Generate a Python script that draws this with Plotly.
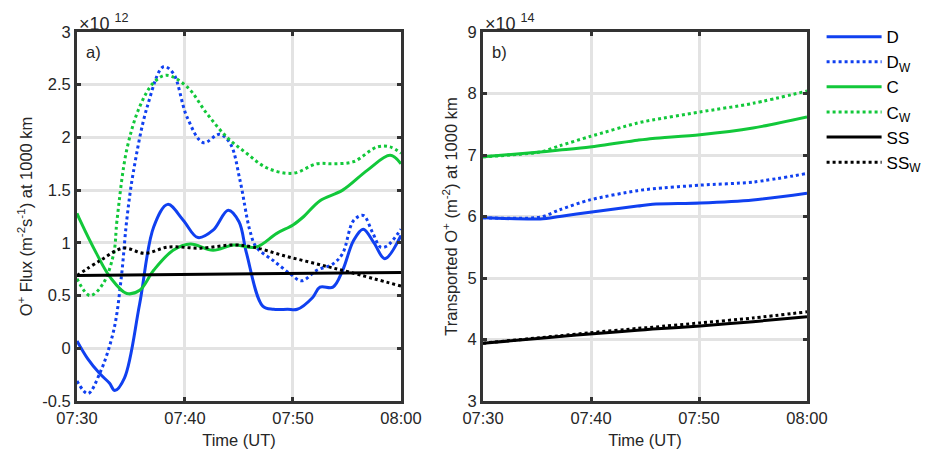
import plotly.graph_objects as go
from plotly.subplots import make_subplots

# ---- Data ----
# panel a: O+ flux (x 1e12 m^-2 s^-1), time in minutes after 07:30
t_D = [0, 1.0, 2.1, 3.0, 3.5, 4.4, 5.8, 7.1, 8.4, 9.8, 11.2, 12.6, 14.0, 15.0, 15.7, 17.2, 18.2, 19.5, 20.4, 21.8, 22.5, 23.7, 24.6, 25.6, 26.5, 27.5, 28.5, 30.0]
v_D = [0.07, -0.10, -0.24, -0.33, -0.40, -0.28, 0.42, 1.15, 1.365, 1.22, 1.05, 1.12, 1.31, 1.20, 0.90, 0.40, 0.37, 0.37, 0.37, 0.48, 0.58, 0.58, 0.74, 1.02, 1.13, 1.00, 0.85, 1.07]

t_Dw = [0, 1.0, 2.1, 3.4, 4.1, 4.6, 5.2, 6.5, 8.0, 8.9, 10.2, 11.7, 13.2, 14.2, 15.1, 16.0, 16.6, 18.2, 19.7, 20.8, 22.2, 23.7, 24.6, 25.6, 26.5, 27.4, 28.1, 28.7, 30.0]
v_Dw = [-0.31, -0.43, -0.24, 0.17, 0.67, 1.21, 1.66, 2.29, 2.67, 2.61, 2.19, 1.95, 2.03, 1.94, 1.59, 1.12, 0.96, 0.83, 0.71, 0.64, 0.74, 0.80, 0.90, 1.21, 1.26, 1.09, 0.96, 0.97, 1.13]

t_C = [0, 0.3, 1.8, 3.1, 4.6, 5.8, 7.1, 8.9, 10.5, 12.6, 14.5, 16.6, 18.5, 20.0, 21.0, 22.5, 24.6, 26.9, 29.0, 30.0]
v_C = [1.28, 1.21, 0.90, 0.67, 0.52, 0.55, 0.74, 0.93, 0.99, 0.93, 0.98, 0.96, 1.09, 1.17, 1.25, 1.40, 1.50, 1.69, 1.83, 1.75]

t_Cw = [0, 1.2, 2.4, 3.4, 3.7, 4.6, 5.8, 7.1, 8.3, 10.2, 12.0, 13.9, 15.7, 17.6, 20.0, 22.2, 23.7, 25.6, 27.8, 29.0, 30.0]
v_Cw = [0.66, 0.50, 0.61, 0.90, 1.21, 1.88, 2.29, 2.52, 2.59, 2.48, 2.23, 2.00, 1.85, 1.71, 1.66, 1.75, 1.75, 1.77, 1.91, 1.91, 1.85]

t_SS = [0, 30.0]
v_SS = [0.69, 0.72]

t_SSw = [0, 2.1, 4.3, 6.3, 8.4, 11.4, 14.5, 16.3, 19.1, 22.2, 25.3, 30.0]
v_SSw = [0.69, 0.83, 0.95, 0.90, 0.96, 0.95, 0.98, 0.96, 0.88, 0.80, 0.72, 0.59]

# panel b: transported O+ (x 1e14 m^-2)
tb = [0, 5.3, 7.1, 9.9, 14.3, 15.7, 20.1, 25.0, 30.0]
b_D = [5.98, 5.96, 6.00, 6.07, 6.17, 6.20, 6.22, 6.27, 6.38]
b_Dw = [5.98, 5.99, 6.11, 6.27, 6.42, 6.45, 6.51, 6.56, 6.70]
b_C = [6.97, 7.05, 7.08, 7.13, 7.24, 7.27, 7.33, 7.44, 7.62]
b_Cw = [6.97, 7.05, 7.15, 7.30, 7.52, 7.57, 7.70, 7.84, 8.04]
b_SS = [3.94, 4.02, 4.05, 4.09, 4.15, 4.17, 4.22, 4.29, 4.37]
b_SSw = [3.94, 4.03, 4.06, 4.11, 4.18, 4.20, 4.27, 4.35, 4.45]

names = ["D", "D<sub>W</sub>", "C", "C<sub>W</sub>", "SS", "SS<sub>W</sub>"]
xticks = [0, 10, 20, 30]
xlabels = ["07:30", "07:40", "07:50", "08:00"]

BLUE = "#1040F0"
GREEN = "#12C83A"
BLACK = "#000000"
DOT = "3px,3px"
TXT = "#262626"

fig = make_subplots(rows=1, cols=2, horizontal_spacing=0.1124)

styles = [(BLUE, "solid"), (BLUE, DOT), (GREEN, "solid"), (GREEN, DOT), (BLACK, "solid"), (BLACK, DOT)]
left = [(t_D, v_D), (t_Dw, v_Dw), (t_C, v_C), (t_Cw, v_Cw), (t_SS, v_SS), (t_SSw, v_SSw)]
right = [b_D, b_Dw, b_C, b_Cw, b_SS, b_SSw]

for i, ((tx, vy), (col, dash)) in enumerate(zip(left, styles)):
    fig.add_trace(go.Scatter(x=tx, y=vy, mode="lines", name=names[i],
                             line=dict(color=col, width=3, dash=dash, shape="spline", smoothing=1.0),
                             showlegend=True), row=1, col=1)
for i, (vy, (col, dash)) in enumerate(zip(right, styles)):
    fig.add_trace(go.Scatter(x=tb, y=vy, mode="lines", name=names[i],
                             line=dict(color=col, width=3, dash=dash, shape="spline", smoothing=0.8),
                             showlegend=False), row=1, col=2)

axcommon = dict(showline=True, linewidth=3, linecolor="#333333", mirror="ticks",
                ticks="inside", ticklen=4, tickwidth=3, tickcolor="#333333",
                showgrid=True, gridcolor="#E3E3E3", gridwidth=3, zeroline=False,
                tickfont=dict(size=16.5, color=TXT))

for c in (1, 2):
    fig.update_xaxes(range=[0, 30], tickvals=xticks, ticktext=xlabels,
                     title=dict(text="Time (UT)", font=dict(size=16.5, color=TXT), standoff=9),
                     row=1, col=c, **axcommon)

fig.update_yaxes(range=[-0.5, 3], tickvals=[-0.5, 0, 0.5, 1, 1.5, 2, 2.5, 3],
                 ticktext=["-0.5", "0", "0.5", "1", "1.5", "2", "2.5", "3"],
                 title=dict(text="O<sup>+</sup> Flux (m<sup>-2</sup>s<sup>-1</sup>) at 1000 km",
                            font=dict(size=16.5, color=TXT), standoff=6),
                 row=1, col=1, **axcommon)
fig.update_yaxes(range=[3, 9], tickvals=[3, 4, 5, 6, 7, 8, 9],
                 title=dict(text="Transported O<sup>+</sup> (m<sup>-2</sup>) at 1000 km",
                            font=dict(size=16.5, color=TXT), standoff=6),
                 row=1, col=2, **axcommon)

ann = dict(showarrow=False, font=dict(size=16.5, color=TXT))
fig.add_annotation(x=0.022, y=0.975, xref="x domain", yref="y domain", text="a)",
                   xanchor="left", yanchor="top", **ann)
fig.add_annotation(x=0.022, y=0.975, xref="x2 domain", yref="y2 domain", text="b)",
                   xanchor="left", yanchor="top", **ann)
expfont = dict(size=18, color=TXT)
fig.add_annotation(x=0.0, y=1.0, xref="x domain", yref="y domain", text="×10 <sup>12</sup>",
                   xanchor="left", yanchor="bottom", yshift=-4, showarrow=False, font=expfont)
fig.add_annotation(x=0.0, y=1.0, xref="x2 domain", yref="y2 domain", text="×10 <sup>14</sup>",
                   xanchor="left", yanchor="bottom", yshift=-4, showarrow=False, font=expfont)

fig.update_layout(
    width=925, height=456,
    margin=dict(l=77, r=118, t=32, b=55, autoexpand=False),
    paper_bgcolor="white", plot_bgcolor="white",
    font=dict(family="Liberation Sans, Arial, sans-serif", color=TXT),
    legend=dict(x=1.02, y=1.035, xanchor="left", yanchor="top",
                font=dict(size=17, color="#000000"), itemwidth=55,
                tracegroupgap=0, bgcolor="rgba(0,0,0,0)"),
)

fig.write_html("out.html")
